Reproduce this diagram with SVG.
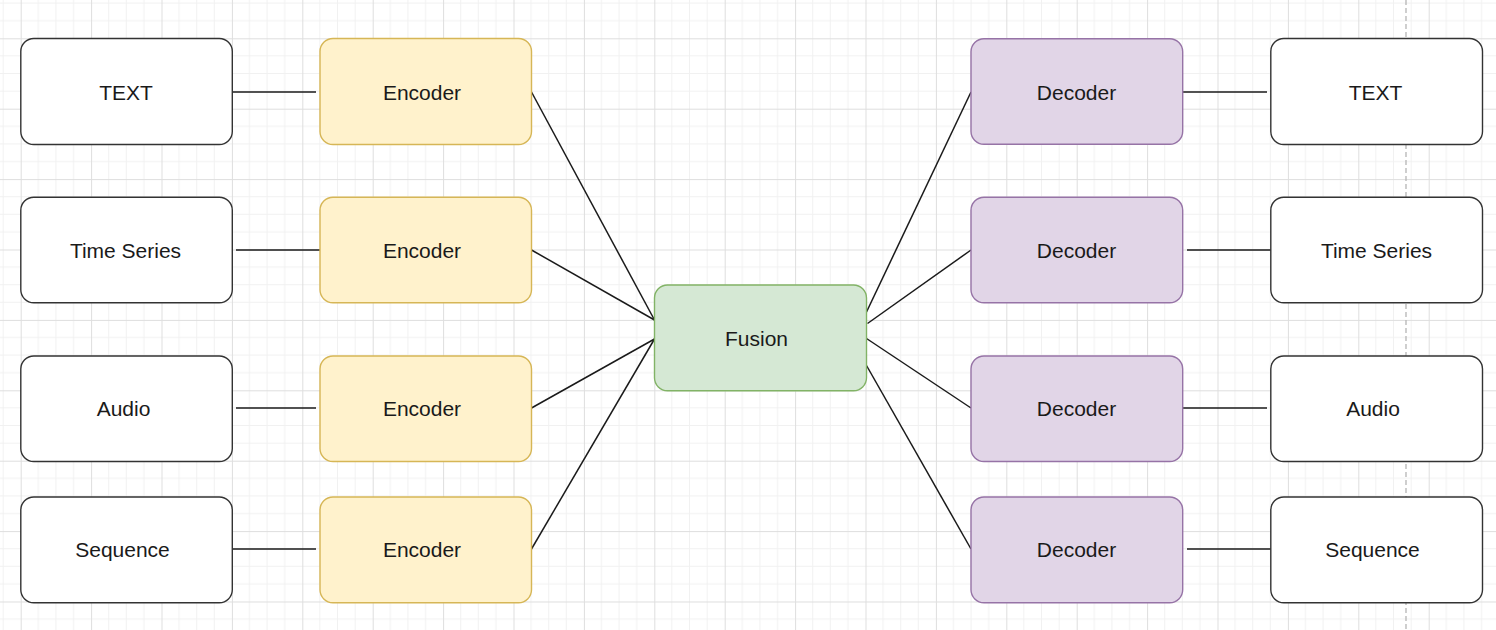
<svg xmlns="http://www.w3.org/2000/svg" width="1496" height="630" viewBox="0 0 1496 630">
  <defs>
    <pattern id="grid" x="20.7" y="38.3" width="70.4" height="70.4" patternUnits="userSpaceOnUse">
      <path d="M17.6 0V70.4M35.2 0V70.4M52.8 0V70.4M0 17.6H70.4M0 35.2H70.4M0 52.8H70.4" stroke="#f1f1f1" stroke-width="1" fill="none"/>
      <path d="M0.5 0V70.4M0 0.5H70.4" stroke="#dedede" stroke-width="1" fill="none"/>
    </pattern>
    <style>
      .box { stroke-width: 1.4; }
      .io { fill: #ffffff; stroke: #333333; }
      .enc { fill: #fff2cc; stroke: #d6b656; }
      .dec { fill: #e1d5e7; stroke: #9673a6; }
      .fus { fill: #d5e8d4; stroke: #82b366; }
      .lbl { font-family: "Liberation Sans", Arial, sans-serif; font-size: 21px; fill: #1a1a1a; text-anchor: middle; }
      .edge { stroke: #1a1a1a; stroke-width: 1.5; fill: none; }
    </style>
  </defs>

  <rect x="0" y="0" width="1496" height="630" fill="#ffffff"/>
  <rect x="0" y="0" width="1496" height="630" fill="url(#grid)"/>
  <line x1="1406" y1="0" x2="1406" y2="630" stroke="#b5b5b5" stroke-width="1.3" stroke-dasharray="5 3"/>

  <g id="connectors">
    <line class="edge" x1="232" y1="92" x2="316" y2="92"/>
    <line class="edge" x1="236" y1="250" x2="320" y2="250"/>
    <line class="edge" x1="236" y1="408" x2="316" y2="408"/>
    <line class="edge" x1="232" y1="549" x2="316" y2="549"/>
    <line class="edge" x1="1183" y1="92" x2="1267" y2="92"/>
    <line class="edge" x1="1187" y1="250" x2="1271" y2="250"/>
    <line class="edge" x1="1183" y1="408" x2="1267" y2="408"/>
    <line class="edge" x1="1187" y1="549" x2="1271" y2="549"/>
    <line class="edge" x1="531.5" y1="92" x2="654.5" y2="320"/>
    <line class="edge" x1="531.5" y1="250" x2="654.5" y2="320"/>
    <line class="edge" x1="531.5" y1="408" x2="654.5" y2="339"/>
    <line class="edge" x1="531.5" y1="549" x2="654.5" y2="339"/>
    <line class="edge" x1="866.5" y1="312" x2="971" y2="92"/>
    <line class="edge" x1="867.5" y1="323.5" x2="971" y2="250"/>
    <line class="edge" x1="866.5" y1="338.5" x2="971" y2="408"/>
    <line class="edge" x1="866.5" y1="365.5" x2="971" y2="549"/>
  </g>

  <g id="in-text"><rect class="box io" x="20.8" y="38.5" width="211.5" height="106" rx="13"/><text class="lbl" x="126" y="99.5">TEXT</text></g>
  <g id="in-timeseries"><rect class="box io" x="20.8" y="197.3" width="211.5" height="105.5" rx="13"/><text class="lbl" x="125.5" y="257.5">Time Series</text></g>
  <g id="in-audio"><rect class="box io" x="20.8" y="356" width="211.5" height="105.5" rx="13"/><text class="lbl" x="123.5" y="416">Audio</text></g>
  <g id="in-sequence"><rect class="box io" x="20.8" y="497" width="211.5" height="105.7" rx="13"/><text class="lbl" x="122.5" y="557">Sequence</text></g>

  <g id="enc-1"><rect class="box enc" x="320" y="38.5" width="211.5" height="106" rx="13"/><text class="lbl" x="422" y="99.5">Encoder</text></g>
  <g id="enc-2"><rect class="box enc" x="320" y="197.3" width="211.5" height="105.5" rx="13"/><text class="lbl" x="422" y="257.5">Encoder</text></g>
  <g id="enc-3"><rect class="box enc" x="320" y="356" width="211.5" height="105.5" rx="13"/><text class="lbl" x="422" y="416">Encoder</text></g>
  <g id="enc-4"><rect class="box enc" x="320" y="497" width="211.5" height="105.7" rx="13"/><text class="lbl" x="422" y="557">Encoder</text></g>

  <g id="fusion"><rect class="box fus" x="654.5" y="285" width="212" height="105.7" rx="13"/><text class="lbl" x="756.5" y="346">Fusion</text></g>

  <g id="dec-1"><rect class="box dec" x="971" y="38.8" width="211.7" height="105.5" rx="13"/><text class="lbl" x="1076.5" y="99.5">Decoder</text></g>
  <g id="dec-2"><rect class="box dec" x="971" y="197.3" width="211.7" height="105.5" rx="13"/><text class="lbl" x="1076.5" y="257.5">Decoder</text></g>
  <g id="dec-3"><rect class="box dec" x="971" y="356" width="211.7" height="105.5" rx="13"/><text class="lbl" x="1076.5" y="416">Decoder</text></g>
  <g id="dec-4"><rect class="box dec" x="971" y="497" width="211.7" height="105.7" rx="13"/><text class="lbl" x="1076.5" y="557">Decoder</text></g>

  <g id="out-text"><rect class="box io" x="1270.8" y="38.5" width="211.7" height="106" rx="13"/><text class="lbl" x="1375.5" y="99.5">TEXT</text></g>
  <g id="out-timeseries"><rect class="box io" x="1270.8" y="197.3" width="211.7" height="105.5" rx="13"/><text class="lbl" x="1376.5" y="257.5">Time Series</text></g>
  <g id="out-audio"><rect class="box io" x="1270.8" y="356" width="211.7" height="105.5" rx="13"/><text class="lbl" x="1373" y="416">Audio</text></g>
  <g id="out-sequence"><rect class="box io" x="1270.8" y="497" width="211.7" height="105.7" rx="13"/><text class="lbl" x="1372.5" y="557">Sequence</text></g>
</svg>
